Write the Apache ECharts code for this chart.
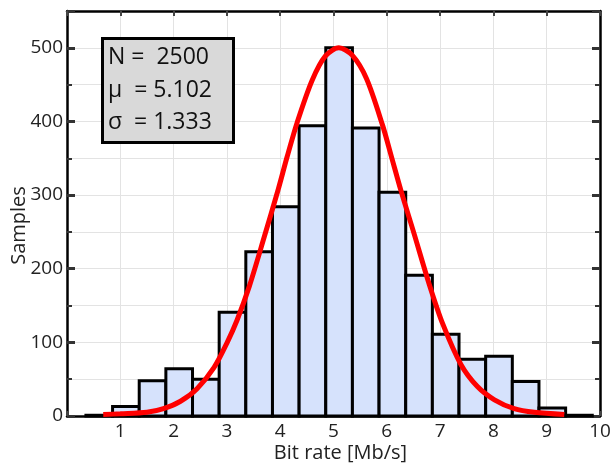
<!DOCTYPE html>
<html>
<head>
<meta charset="utf-8">
<script src="https://cdn.jsdelivr.net/npm/echarts@6/dist/echarts.min.js"></script>
<style>
  html, body { margin: 0; padding: 0; background: #fff; }
  #chart { width: 610px; height: 467px; }
</style>
</head>
<body>
<div id="chart"></div>
<script>
// histogram bins (Mb/s)
const binEdges = [0.355, 0.855, 1.355, 1.855, 2.355, 2.855, 3.355, 3.855, 4.355, 4.855,
  5.355, 5.855, 6.355, 6.855, 7.355, 7.855, 8.355, 8.855, 9.355, 9.855]
const counts = [1, 13, 48, 64, 50, 141, 223, 284, 394, 500, 391, 304, 191, 111, 77, 81, 47, 11, 1]

// fitted curve
const fitX = [0.68, 1.0, 1.5, 1.81, 2.13, 2.44, 2.76, 3.0, 3.19, 3.42, 3.70, 3.96, 4.13, 4.32, 4.60, 4.85,
  5.10, 5.35, 5.62, 5.92, 6.08, 6.27, 6.51, 6.80, 7.05, 7.39, 7.70, 8.02, 8.39, 8.77, 9.33]
const fitY = [2, 3, 5, 10, 20, 37, 66, 99, 130, 176, 243, 307, 352, 399, 456, 489,
  500, 490, 458, 395, 354, 305, 248, 178, 125, 70, 40, 22, 10, 5, 2]

const statLines = ['N =  2500', 'μ  = 5.102', 'σ  = 1.333']

const FONT = '"Open Sans", "Noto Sans", sans-serif'
const TEXT = '#222'
const GRID_LINE = '#e3e3e3'
const BAR_FILL = '#d6e2fc'

const chart = echarts.init(document.getElementById('chart'))

const barData = counts.map((c, i) => [binEdges[i], binEdges[i + 1], c])
const fitData = fitX.map((x, i) => [x, fitY[i]])

function frameAxis(extra) {
  return Object.assign({
    axisLine: { show: true, onZero: false, lineStyle: { color: '#000', width: 2.5 } },
    axisLabel: { show: false },
    splitLine: { show: false }
  }, extra)
}

chart.setOption({
  animation: false,
  textStyle: { fontFamily: FONT, color: TEXT },
  grid: { left: 67, right: 10, top: 11, bottom: 51, containLabel: false, outerBoundsMode: 'none' },
  xAxis: [
    {
      type: 'value', min: 0, max: 10, interval: 1,
      name: 'Bit rate [Mb/s]', nameLocation: 'middle', nameGap: 27, nameMoveOverlap: false,
      nameTextStyle: { fontSize: 20, color: TEXT, fontFamily: FONT, padding: [0, 0, 0, 14] },
      axisLine: { show: true, onZero: false, lineStyle: { color: '#000', width: 2.5 } },
      axisTick: { show: true, inside: true, length: 5, lineStyle: { color: '#444', width: 2 } },
      axisLabel: {
        fontSize: 19, color: TEXT, fontFamily: FONT, margin: 6,
        formatter: v => (v === 0 ? '' : String(v))
      },
      splitLine: { show: true, lineStyle: { color: GRID_LINE, width: 1 } }
    },
    frameAxis({
      type: 'value', min: 0, max: 10, interval: 1, position: 'top',
      axisTick: { show: true, inside: true, length: 5, lineStyle: { color: '#444', width: 2 } }
    })
  ],
  yAxis: [
    {
      type: 'value', min: 0, max: 550, interval: 100,
      name: 'Samples', nameLocation: 'middle', nameGap: 38, nameMoveOverlap: false,
      nameTextStyle: { fontSize: 20, color: TEXT, fontFamily: FONT, padding: [0, 24, 0, 0] },
      axisLine: { show: true, onZero: false, lineStyle: { color: '#000', width: 2.5 } },
      axisTick: { show: true, inside: true, length: 8, lineStyle: { color: '#333', width: 3 } },
      minorTick: { show: true, splitNumber: 2, length: 5, lineStyle: { color: '#333', width: 2 } },
      axisLabel: {
        fontSize: 19, color: TEXT, fontFamily: FONT, margin: 4,
        showMaxLabel: false
      },
      splitLine: { show: true, lineStyle: { color: GRID_LINE, width: 1 } },
      minorSplitLine: { show: true, lineStyle: { color: GRID_LINE, width: 1 } }
    },
    frameAxis({
      type: 'value', min: 0, max: 550, interval: 100, position: 'right',
      axisTick: { show: true, inside: true, length: 8, lineStyle: { color: '#333', width: 3 } },
      minorTick: { show: true, splitNumber: 2, length: 5, lineStyle: { color: '#333', width: 2 } }
    })
  ],
  series: [
    {
      type: 'custom',
      name: 'Samples',
      xAxisIndex: 0,
      yAxisIndex: 0,
      data: barData,
      encode: { x: [0, 1], y: 2 },
      z: 2,
      renderItem: (params, api) => {
        const tl = api.coord([api.value(0), api.value(2)])
        const br = api.coord([api.value(1), 0])
        return {
          type: 'rect',
          shape: { x: tl[0], y: tl[1], width: br[0] - tl[0], height: br[1] - tl[1] },
          style: { fill: BAR_FILL, stroke: '#000', lineWidth: 3 }
        }
      }
    },
    {
      type: 'line',
      name: 'fit',
      xAxisIndex: 0,
      yAxisIndex: 0,
      data: fitData,
      smooth: 0.3,
      symbol: 'none',
      z: 5,
      lineStyle: { color: '#ff0000', width: 5 }
    }
  ],
  graphic: [
    {
      type: 'rect',
      left: 101, top: 37,
      shape: { width: 131, height: 104 },
      style: { fill: '#d9d9d9', stroke: '#000', lineWidth: 3 },
      z: 10
    },
    ...statLines.map((t, i) => ({
      type: 'text',
      left: 108, top: 46 + i * 32.5,
      style: { text: t, font: '23px ' + FONT, fill: '#111' },
      z: 11
    }))
  ]
})
</script>
</body>
</html>
